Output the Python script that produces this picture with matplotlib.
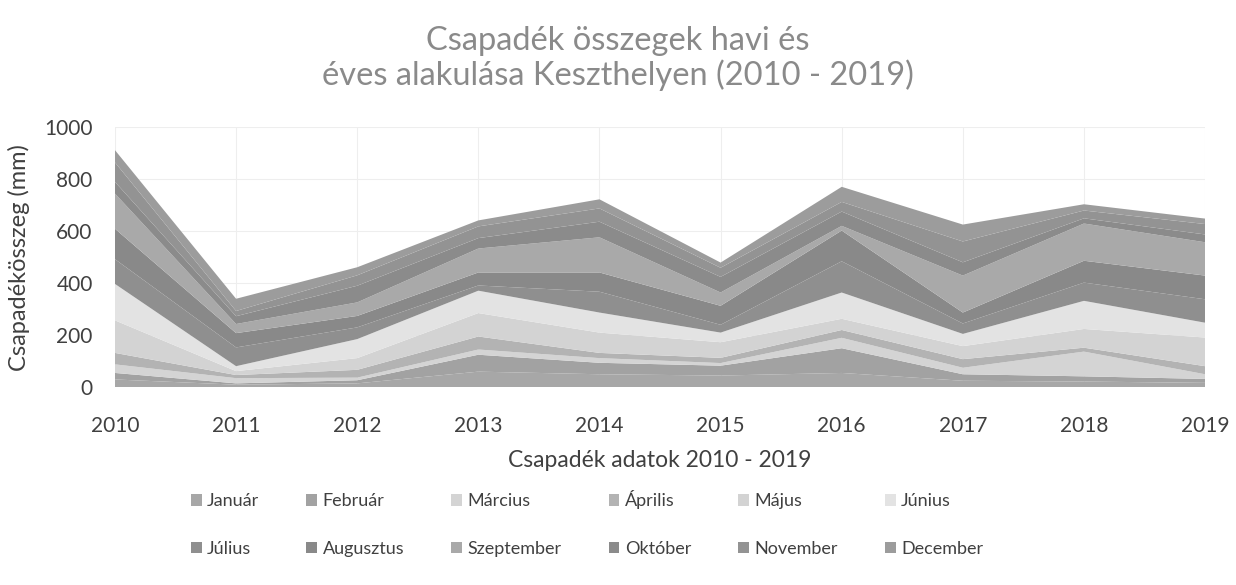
import matplotlib
matplotlib.use("Agg")
import matplotlib.pyplot as plt
import numpy as np

plt.rcParams['font.family'] = ['Lato', 'DejaVu Sans']

##### data (mm)
years = [2010, 2011, 2012, 2013, 2014, 2015, 2016, 2017, 2018, 2019]
months = ['Január', 'Február', 'Március', 'Április', 'Május', 'Június',
          'Július', 'Augusztus', 'Szeptember', 'Október', 'November', 'December']

jan = [30, 10, 15, 60, 50, 45, 55, 25, 22, 17]
feb = [25, 5, 12, 65, 44, 38, 95, 25, 20, 15]
mar = [33, 20, 10, 20, 18, 10, 40, 25, 95, 18]
apr = [44, 12, 30, 50, 20, 20, 30, 33, 15, 31]
maj = [125, 15, 45, 90, 78, 60, 43, 50, 72, 110]
jun = [140, 19, 73, 86, 77, 37, 101, 47, 108, 57]
jul = [95, 72, 45, 20, 80, 30, 120, 40, 70, 90]
aug = [117, 55, 44, 50, 74, 73, 118, 42, 84, 91]
sep = [135, 35, 52, 92, 135, 51, 18, 142, 143, 128]
okt = [45, 30, 64, 40, 60, 60, 55, 51, 20, 30]
nov = [75, 20, 40, 45, 51, 35, 37, 80, 30, 40]
dec = [47, 47, 31, 23, 35, 20, 58, 65, 24, 21]

series = [jan, feb, mar, apr, maj, jun, jul, aug, sep, okt, nov, dec]
colors = ['#a7a7a7', '#a2a2a2', '#d4d4d4', '#b3b3b3', '#d3d3d3', '#e3e3e3',
          '#8f8f8f', '#898989', '#a9a9a9', '#8b8b8b', '#939393', '#9c9c9c']

fig = plt.figure(figsize=(12.36, 5.85), dpi=100)
ax = fig.add_axes([0.093, 0.338, 0.882, 0.445])

polys = ax.stackplot(years, *series, labels=months, colors=colors, linewidth=0)

ax.set_xlim(2010, 2019)
ax.set_ylim(0, 1000)
ax.set_xticks(years)
ax.set_yticks(range(0, 1001, 200))
ax.grid(True, color='#eeeeee', linewidth=0.8)
ax.set_axisbelow(True)
for s in ax.spines.values():
    s.set_visible(False)
ax.tick_params(length=0, labelsize=15, labelcolor='#404040', pad=16)
ax.tick_params(axis='x', pad=21)

ax.set_xlabel('Csapadék adatok 2010 - 2019', fontsize=16.5, color='#404040', labelpad=10)
ax.set_ylabel('Csapadékösszeg (mm)', fontsize=17, color='#404040', labelpad=10)

fig.text(0.5, 0.9, 'Csapadék összegek havi és\néves alakulása Keszthelyen (2010 - 2019)',
         ha='center', va='center', fontsize=23.5, color='#8a8a8a', linespacing=1.15)

# legend: rows Jan-Jun / Jul-Dec, matplotlib fills by column
order = []
for i in range(6):
    order += [i, i + 6]
leg = fig.legend([polys[i] for i in order], [months[i] for i in order],
                 loc='center', bbox_to_anchor=(0.475, 0.105), ncol=6, frameon=False,
                 fontsize=13, handlelength=0.6, handleheight=0.6, handletextpad=0.3,
                 columnspacing=2.6, labelspacing=1.75)
for t in leg.get_texts():
    t.set_color('#404040')

fig.savefig('out.png', dpi=100)
